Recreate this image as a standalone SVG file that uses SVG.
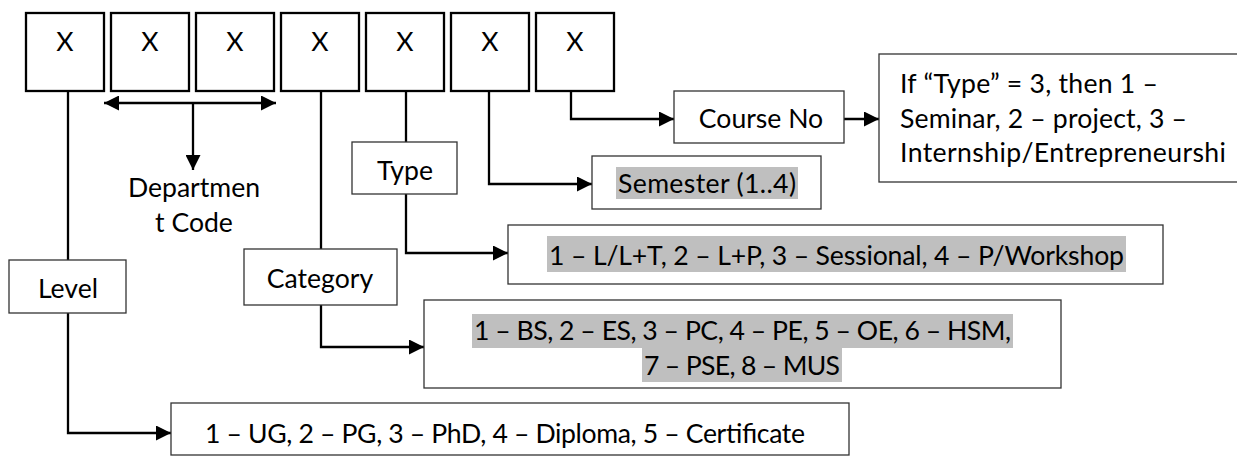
<svg xmlns="http://www.w3.org/2000/svg" width="1237" height="456" viewBox="0 0 1237 456">
<defs>
<style>
.t{font-family:Lato,"Open Sans","Liberation Sans",sans-serif;font-size:26.6px;fill:#000}
.m{text-anchor:middle}
.bx{fill:#fff;stroke:#000;stroke-width:2.3}
.tb{fill:#fff;stroke:#333;stroke-width:1.3}
.hl{fill:#bfbfbf}
.c{fill:none;stroke:#000;stroke-width:2.3}
</style>
<marker id="ah" viewBox="0 0 10 10" refX="10" refY="5" markerWidth="15" markerHeight="15" markerUnits="userSpaceOnUse" orient="auto-start-reverse">
<path d="M0,0 L10,5 L0,10 Z" fill="#000"/>
</marker>
</defs>
<rect width="1237" height="456" fill="#fff"/>
<g id="connectors">
<path class="c" d="M68 91 V260"/>
<path class="c" d="M68 313 V433 H171" marker-end="url(#ah)"/>
<path class="c" d="M104 103 H276" marker-start="url(#ah)" marker-end="url(#ah)"/>
<path class="c" d="M193 103 V170" marker-end="url(#ah)"/>
<path class="c" d="M321 91 V249"/>
<path class="c" d="M321 305 V347 H424" marker-end="url(#ah)"/>
<path class="c" d="M406 91 V142"/>
<path class="c" d="M406 194 V253 H508" marker-end="url(#ah)"/>
<path class="c" d="M489 91 V184 H592" marker-end="url(#ah)"/>
<path class="c" d="M571 91 V119 H674" marker-end="url(#ah)"/>
<path class="c" d="M844 119 H879" marker-end="url(#ah)"/>
</g>
<g id="digit1"><rect class="bx" x="26" y="13" width="78" height="78"/><text class="t m" x="65" y="51">X</text></g>
<g id="digit2"><rect class="bx" x="111" y="13" width="78" height="78"/><text class="t m" x="150" y="51">X</text></g>
<g id="digit3"><rect class="bx" x="196" y="13" width="78" height="78"/><text class="t m" x="235" y="51">X</text></g>
<g id="digit4"><rect class="bx" x="281" y="13" width="78" height="78"/><text class="t m" x="320" y="51">X</text></g>
<g id="digit5"><rect class="bx" x="366" y="13" width="78" height="78"/><text class="t m" x="405" y="51">X</text></g>
<g id="digit6"><rect class="bx" x="451" y="13" width="78" height="78"/><text class="t m" x="490" y="51">X</text></g>
<g id="digit7"><rect class="bx" x="536" y="13" width="78" height="78"/><text class="t m" x="575" y="51">X</text></g>
<g id="dept"><text class="t m" x="194" y="197">Departmen</text><text class="t m" x="194" y="232">t Code</text></g>
<g id="level"><rect class="tb" x="9" y="260" width="117" height="53"/><text class="t m" x="68" y="298">Level</text></g>
<g id="category"><rect class="tb" x="244" y="249" width="153" height="56"/><text class="t m" x="320" y="288">Category</text></g>
<g id="type"><rect class="tb" x="352" y="142" width="105" height="52"/><text class="t m" x="405" y="180">Type</text></g>
<g id="semester"><rect class="tb" x="592" y="156" width="229" height="53"/><rect class="hl" x="616" y="167" width="182" height="32"/><text class="t m" x="707" y="193" textLength="178" lengthAdjust="spacing">Semester (1..4)</text></g>
<g id="courseno"><rect class="tb" x="674" y="91" width="170" height="52"/><text class="t m" x="761" y="128">Course No</text></g>
<g id="project"><rect class="tb" x="879" y="54" width="370" height="128"/><text class="t" x="900" y="93" textLength="258" lengthAdjust="spacing">If “Type” = 3, then 1 –</text><text class="t" x="900" y="128" textLength="287" lengthAdjust="spacing">Seminar, 2 – project, 3 –</text><text class="t" x="900" y="162" textLength="326" lengthAdjust="spacing">Internship/Entrepreneurshi</text></g>
<g id="typeval"><rect class="tb" x="508" y="225" width="655" height="59"/><rect class="hl" x="547" y="236" width="579" height="36"/><text class="t m" x="836.5" y="265" textLength="575" lengthAdjust="spacing">1 – L/L+T, 2 – L+P, 3 – Sessional, 4 – P/Workshop</text></g>
<g id="catval"><rect class="tb" x="424" y="300" width="637" height="88"/><rect class="hl" x="472" y="314" width="541" height="34"/><rect class="hl" x="642" y="348" width="200" height="34"/><text class="t m" x="742.5" y="340" textLength="537" lengthAdjust="spacing">1 – BS, 2 – ES, 3 – PC, 4 – PE, 5 – OE, 6 – HSM,</text><text class="t m" x="742" y="375" textLength="196" lengthAdjust="spacing">7 – PSE, 8 – MUS</text></g>
<g id="levelval"><rect class="tb" x="171" y="403" width="678" height="52"/><text class="t m" x="505" y="443" textLength="600" lengthAdjust="spacing">1 – UG, 2 – PG, 3 – PhD, 4 – Diploma, 5 – Certificate</text></g>
</svg>
